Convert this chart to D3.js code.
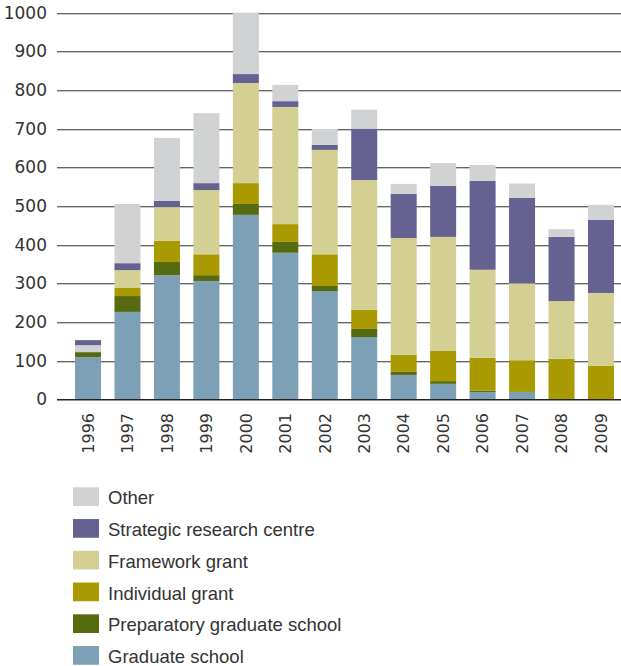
<!DOCTYPE html>
<html><head><meta charset="utf-8">
<script src="https://cdn.jsdelivr.net/npm/d3@7"></script>
<style>
html,body{margin:0;padding:0;background:#fff;}
svg{display:block;}
text{font-family:"Liberation Sans",Arial,sans-serif;fill:#333;}
.num{font-family:"DejaVu Sans",sans-serif;}
</style></head>
<body>
<script>
const years = ["1996","1997","1998","1999","2000","2001","2002","2003","2004","2005","2006","2007","2008","2009"];
const graduateSchool = [109,226,321,306,477,379,280,161,63,40,19,19,0,0];
const preparatorySchool = [13,41,34,15,28,28,13,21,8,7,3,0,0,0];
const individualGrant = [0,21,55,54,54,46,82,49,44,78,85,82,105,87];
const frameworkGrant = [0,46,87,166,259,303,270,336,302,295,228,199,149,188];
const strategicCentre = [13,18,16,18,23,15,13,133,114,132,230,221,166,189];
const other = [18,153,163,181,159,42,41,49,26,59,41,37,20,39];
// years where "Other" sits beneath "Strategic research centre" in the stack
const otherBelowStrategic = ["1996"];
const yTicks = [0,100,200,300,400,500,600,700,800,900,1000];

const series = [
  {name:"Graduate school", values:graduateSchool, color:"#7ea0b7"},
  {name:"Preparatory graduate school", values:preparatorySchool, color:"#566b10"},
  {name:"Individual grant", values:individualGrant, color:"#a89a00"},
  {name:"Framework grant", values:frameworkGrant, color:"#d4cf93"},
  {name:"Strategic research centre", values:strategicCentre, color:"#656190"},
  {name:"Other", values:other, color:"#d1d2d4"}
];

const W=621,H=666;
const svg=d3.select("body").append("svg").attr("width",W).attr("height",H);

const x=d3.scaleBand().domain(years).range([68.3,620.7]).paddingInner(0.341).paddingOuter(0.1705);
const y=d3.scaleLinear().domain([0,1000]).range([399.3,12.6]);

// grid
const grid=svg.append("g");
yTicks.filter(t=>t>0).forEach(t=>{
  grid.append("line").attr("x1",57).attr("x2",W).attr("y1",Math.round(y(t))+0.5).attr("y2",Math.round(y(t))+0.5)
    .attr("stroke","#666").attr("stroke-width",1);
  grid.append("line").attr("x1",57).attr("x2",W).attr("y1",Math.round(y(t))+1.5).attr("y2",Math.round(y(t))+1.5)
    .attr("stroke","#c8c8c8").attr("stroke-width",1);
});

// y labels
svg.append("g").selectAll("text").data(yTicks).join("text").attr("class","num")
  .attr("x",47).attr("y",d=>y(d)).attr("dy","0.36em").attr("text-anchor","end")
  .style("font-size","17px").text(d=>d);

// stacked bars
const rects=[];
years.forEach((yr,i)=>{
  let order=series.slice();
  if(otherBelowStrategic.includes(yr)){
    order=[series[0],series[1],series[2],series[3],series[5],series[4]];
  }
  let acc=0;
  order.forEach(s=>{
    const v=s.values[i];
    if(v>0) rects.push({year:yr,y0:acc,y1:acc+v,color:s.color});
    acc+=v;
  });
});
svg.append("g").selectAll("rect").data(rects).join("rect")
  .attr("x",d=>x(d.year)).attr("width",x.bandwidth())
  .attr("y",d=>y(d.y1)).attr("height",d=>y(d.y0)-y(d.y1))
  .attr("fill",d=>d.color);

// baseline
svg.append("line").attr("x1",57).attr("x2",W).attr("y1",y(0)+0.5).attr("y2",y(0)+0.5)
  .attr("stroke","#222").attr("stroke-width",1.5);

// x labels
svg.append("g").selectAll("text").data(years).join("text").attr("class","num")
  .attr("transform",d=>`translate(${x(d)+x.bandwidth()/2},413) rotate(-90)`)
  .attr("dy","0.36em").attr("text-anchor","end")
  .style("font-size","16px").text(d=>d);

// legend
const legendItems=series.slice().reverse();
const lg=svg.append("g").selectAll("g").data(legendItems).join("g")
  .attr("transform",(d,i)=>`translate(73,${487.3+i*31.75})`);
lg.append("rect").attr("width",26).attr("height",18.7).attr("fill",d=>d.color);
lg.append("text").attr("x",35).attr("y",17).style("font-size","18.5px").text(d=>d.name);
</script>
</body></html>
